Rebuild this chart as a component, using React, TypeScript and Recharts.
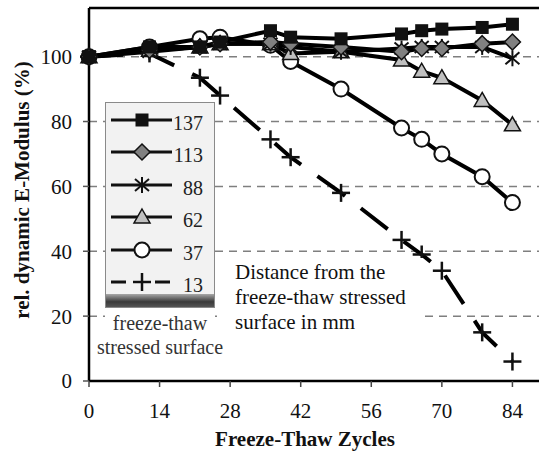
import React from 'react';
import { LineChart, Line, XAxis, YAxis, CartesianGrid, ReferenceLine, Legend, Label } from 'recharts';

const SERIF = '"Liberation Serif", "Times New Roman", serif';

// freeze-thaw cycles at which the modulus was measured
const cycles = [0, 12, 22, 26, 36, 40, 50, 62, 66, 70, 78, 84];

// relative dynamic E-modulus (%) per distance from stressed surface (mm)
const d137 = [100, 103, 103, 104.5, 108, 106, 105.5, 107, 108, 108.5, 109, 110];
const d113 = [100, 102, 103, 104, 104.5, 104, 103, 101.5, 102.5, 102.5, 104, 104.5];
const d88 = [100, 101.5, 103, 104, 104, 103, 101.5, 102.5, 103, 103, 103, 99.5];
const d62 = [100, 102, 103, 104, 104, 101, 101.5, 99, 95.5, 93.5, 86.5, 79];
const d37 = [100, 103, 105.5, 106, 103.5, 98.5, 90, 78, 74.5, 70, 63, 55];
const d13 = [100, 101, 93.5, 88, 74.5, 69, 58, 43.5, 39, 34, 15, 6];

const xTicks = [0, 14, 28, 42, 56, 70, 84];
const yTicks = [0, 20, 40, 60, 80, 100];
const legendOrder = ['137', '113', '88', '62', '37', '13'];

type MarkerKind = 'square' | 'diamond' | 'asterisk' | 'triangle' | 'circle' | 'plus';

// drawing order: bottom first
const SERIES: { key: string; name: string; values: number[]; marker: MarkerKind; dash?: string }[] = [
  { key: 'd13', name: '13', values: d13, marker: 'plus', dash: '34 20' },
  { key: 'd37', name: '37', values: d37, marker: 'circle' },
  { key: 'd62', name: '62', values: d62, marker: 'triangle' },
  { key: 'd88', name: '88', values: d88, marker: 'asterisk' },
  { key: 'd113', name: '113', values: d113, marker: 'diamond' },
  { key: 'd137', name: '137', values: d137, marker: 'square' },
];

const data = cycles.map((c, i) => {
  const row: Record<string, number> = { cycle: c };
  SERIES.forEach((s) => {
    row[s.key] = s.values[i];
  });
  return row;
});

const Marker = ({ kind, cx, cy }: { kind: MarkerKind; cx: number; cy: number }) => {
  switch (kind) {
    case 'square':
      return <rect x={cx - 6.5} y={cy - 6.5} width={13} height={13} fill="#111" />;
    case 'diamond':
      return (
        <polygon
          points={`${cx},${cy - 8} ${cx + 8},${cy} ${cx},${cy + 8} ${cx - 8},${cy}`}
          fill="#808080"
          stroke="#111"
          strokeWidth={1.5}
        />
      );
    case 'asterisk':
      return (
        <g stroke="#111" strokeWidth={2}>
          <line x1={cx} y1={cy - 8} x2={cx} y2={cy + 8} />
          <line x1={cx - 7} y1={cy - 6} x2={cx + 7} y2={cy + 6} />
          <line x1={cx - 7} y1={cy + 6} x2={cx + 7} y2={cy - 6} />
        </g>
      );
    case 'triangle':
      return (
        <polygon
          points={`${cx},${cy - 8} ${cx + 8},${cy + 6} ${cx - 8},${cy + 6}`}
          fill="#c0c0c0"
          stroke="#111"
          strokeWidth={1.5}
        />
      );
    case 'circle':
      return <circle cx={cx} cy={cy} r={7.5} fill="#fff" stroke="#111" strokeWidth={2} />;
    case 'plus':
      return (
        <g stroke="#111" strokeWidth={2.5}>
          <line x1={cx - 9} y1={cy} x2={cx + 9} y2={cy} />
          <line x1={cx} y1={cy - 9} x2={cx} y2={cy + 9} />
        </g>
      );
    default:
      return null;
  }
};

const renderDot = (kind: MarkerKind) => (p: any) => {
  if (p.cx == null || p.cy == null) return <g key={`${kind}-${p.index}`} />;
  return <Marker key={`${kind}-${p.index}`} kind={kind} cx={p.cx} cy={p.cy} />;
};

const LegendBox = ({ payload }: any) => {
  const items = legendOrder
    .map((n) => (payload || []).find((p: any) => p.value === n))
    .filter(Boolean);
  return (
    <div style={{ width: 110, fontFamily: SERIF }}>
      <div
        style={{
          position: 'relative',
          width: 110,
          height: 206,
          boxSizing: 'border-box',
          background: '#f2f2f2',
          border: '1px solid #8a8a8a',
        }}
      >
        {items.map((it: any, i: number) => {
          const s = SERIES.find((x) => x.name === it.value)!;
          return (
            <svg
              key={it.value}
              width={110}
              height={32}
              style={{ position: 'absolute', left: -1, top: 17 - 16 + i * 32.4 }}
            >
              <line
                x1={6}
                x2={67}
                y1={16}
                y2={16}
                stroke="#111"
                strokeWidth={3}
                strokeDasharray={s.dash ? '15 29' : undefined}
              />
              <Marker kind={s.marker} cx={37} cy={16} />
              <text
                x={98}
                y={19}
                textAnchor="end"
                dominantBaseline="central"
                fontSize={20}
                fontFamily={SERIF}
                fill="#222"
              >
                {it.value}
              </text>
            </svg>
          );
        })}
        <div
          style={{
            position: 'absolute',
            left: 0,
            right: 0,
            bottom: 0,
            height: 13,
            background: 'linear-gradient(to bottom, #a8a8a8, #3a3a3a 60%, #555)',
          }}
        />
      </div>
      <div
        style={{
          background: '#fff',
          height: 30,
          paddingTop: 3,
          fontSize: 20,
          lineHeight: '24px',
          color: '#333',
          textAlign: 'center',
          whiteSpace: 'nowrap',
          display: 'flex',
          flexDirection: 'column',
          alignItems: 'center',
        }}
      >
        <div>freeze-thaw</div>
        <div>stressed surface</div>
      </div>
    </div>
  );
};

export default function App() {
  return (
    <div
      style={{
        position: 'absolute',
        left: 0,
        top: 0,
        width: 539,
        height: 453,
        overflow: 'hidden',
        background: '#fff',
        fontFamily: SERIF,
      }}
    >
      <LineChart width={583} height={453} data={data} margin={{ top: 8, right: 0, bottom: 32, left: 0 }}>
        <CartesianGrid vertical={false} stroke="#7f7f7f" strokeDasharray="8 6" strokeWidth={1.5} />
        <XAxis
          dataKey="cycle"
          type="number"
          domain={[0, 98]}
          ticks={xTicks}
          height={40}
          tickSize={6}
          tickMargin={16}
          axisLine={{ stroke: '#000', strokeWidth: 2.5 }}
          tickLine={{ stroke: '#444', strokeWidth: 1.5 }}
          tick={{ fill: '#111', fontSize: 21, fontFamily: SERIF }}
        >
          <Label
            content={() => (
              <text x={305} y={446} textAnchor="middle" fontSize={21} fontWeight="bold" fontFamily={SERIF} fill="#111">
                Freeze-Thaw Zycles
              </text>
            )}
          />
        </XAxis>
        <YAxis
          type="number"
          domain={[0, 115]}
          ticks={yTicks}
          width={89}
          tickSize={6}
          tickMargin={11}
          axisLine={{ stroke: '#000', strokeWidth: 2.5 }}
          tickLine={{ stroke: '#555', strokeWidth: 1.5 }}
          tick={{ fill: '#111', fontSize: 21, fontFamily: SERIF }}
        >
          <Label
            content={() => (
              <text
                x={22}
                y={190}
                transform="rotate(-90 22 190)"
                textAnchor="middle"
                dominantBaseline="central"
                fontSize={21}
                fontWeight="bold"
                fontFamily={SERIF}
                fill="#111"
              >
                rel. dynamic E-Modulus (%)
              </text>
            )}
          />
        </YAxis>
        <ReferenceLine y={115} stroke="#000" strokeWidth={2.5} />
        <Legend
          layout="vertical"
          align="center"
          verticalAlign="middle"
          content={<LegendBox />}
          wrapperStyle={{ position: 'absolute', left: 105, top: 102, width: 110, height: 'auto' }}
        />
        {SERIES.map((s) => (
          <Line
            key={s.key}
            type="linear"
            dataKey={s.key}
            name={s.name}
            stroke="#000"
            strokeWidth={4}
            strokeDasharray={s.dash}
            dot={renderDot(s.marker)}
            activeDot={false}
            isAnimationActive={false}
          />
        ))}
      </LineChart>
      <div
        style={{
          position: 'absolute',
          left: 217,
          top: 258,
          width: 206,
          height: 77,
          boxSizing: 'border-box',
          paddingLeft: 18,
          paddingTop: 2,
          background: '#fff',
          fontSize: 21,
          lineHeight: '25px',
          color: '#111',
          whiteSpace: 'nowrap',
        }}
      >
        <div>Distance from the</div>
        <div>freeze-thaw stressed</div>
        <div>surface in mm</div>
      </div>
    </div>
  );
}
